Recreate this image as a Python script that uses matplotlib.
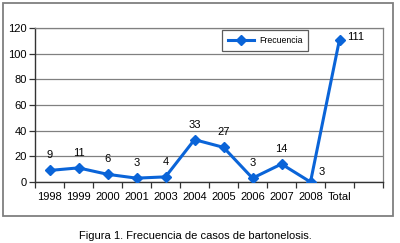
import matplotlib
matplotlib.use("Agg")
import matplotlib.pyplot as plt
from matplotlib.patches import Rectangle
from matplotlib.lines import Line2D

categories = ["1998", "1999", "2000", "2001", "2003", "2004", "2005", "2006", "2007", "2008", "Total", ""]
values = [9, 11, 6, 3, 4, 33, 27, 3, 14, 0, 111]
point_labels = ["9", "11", "6", "3", "4", "33", "27", "3", "14", "3", "111"]
series_name = "Frecuencia"
caption = "Figura 1. Frecuencia de casos de bartonelosis."

plt.rcParams['font.family'] = ['Liberation Sans', 'DejaVu Sans']

W, H = 400, 243
fig = plt.figure(figsize=(W / 100, H / 100), dpi=100)
fig.patch.set_facecolor("white")

# outer frame
fig.patches.append(Rectangle((3 / W, 1 - 216 / H), (393 - 3) / W, (216 - 3) / H,
                             transform=fig.transFigure, fill=False,
                             edgecolor="#7f7f7f", linewidth=1.3))

L, R, T, B = 35, 383, 28, 182
ax = fig.add_axes([L / W, 1 - B / H, (R - L) / W, (B - T) / H])

blue = "#0a64d8"
x = list(range(len(values)))
ax.plot(x, values, color=blue, linewidth=2.2, marker="D", markersize=5,
        markerfacecolor=blue, markeredgecolor=blue, zorder=3)

ax.set_xlim(-0.5, len(categories) - 0.5)
ax.set_ylim(0, 120)
ax.set_yticks(range(0, 121, 20))
ax.yaxis.grid(True, color="#808080", linewidth=0.9)
ax.set_axisbelow(True)

ax.set_xticks(range(len(categories)))
ax.set_xticklabels(categories, fontsize=8)
ax.set_xticks([i - 0.5 for i in range(len(categories) + 1)], minor=True)
ax.tick_params(axis="x", which="major", length=0, pad=7)
ax.tick_params(axis="x", which="minor", length=4, width=0.9, color="#333333", direction="out")
ax.tick_params(axis="y", labelsize=8, length=4, width=0.9, color="#333333", pad=2)

for s in ["left", "bottom"]:
    ax.spines[s].set_color("#333333")
    ax.spines[s].set_linewidth(1.0)
for s in ["top", "right"]:
    ax.spines[s].set_color("#808080")
    ax.spines[s].set_linewidth(0.9)

offsets = [(0, 10)] * len(values)
offsets[9] = (11, 10)
offsets[10] = (16, 3)
for i, (v, lab) in enumerate(zip(values, point_labels)):
    dx, dy = offsets[i]
    ax.annotate(lab, (i, v), xytext=(dx * 0.72, dy * 0.72), textcoords="offset points",
                ha="center", va="bottom" if i < 9 else "center", fontsize=8)

handle = Line2D([0], [0], color=blue, linewidth=2.2, marker="D", markersize=5)
leg = ax.legend([handle], [series_name], loc="upper left",
                bbox_to_anchor=((222 - L) / (R - L), 1 - (30 - T) / (B - T)),
                fontsize=6.3, frameon=True, fancybox=False, borderaxespad=0,
                handlelength=3.0, borderpad=0.7, handletextpad=0.5)
leg.get_frame().set_edgecolor("#333333")
leg.get_frame().set_linewidth(0.9)

fig.text(195 / W, 1 - 236 / H, caption, ha="center", va="center", fontsize=8)

fig.savefig("out.png", dpi=100)
